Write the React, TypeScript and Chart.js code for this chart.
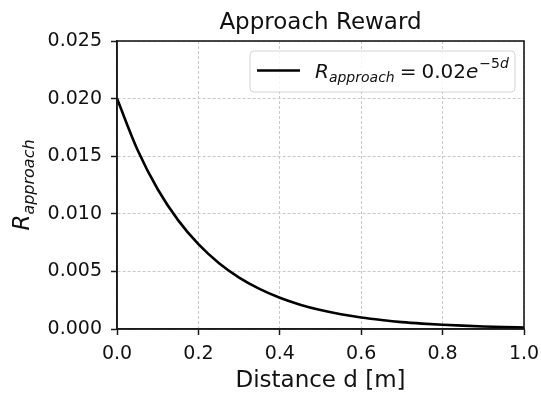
import { useEffect, useRef } from 'react';
import { Chart, registerables } from 'chart.js';

Chart.register(...registerables);

// Values
const distance = [0, 0.05, 0.1, 0.15, 0.2, 0.25, 0.3, 0.35, 0.4, 0.45, 0.5, 0.55, 0.6, 0.65, 0.7, 0.75, 0.8, 0.85, 0.9, 0.95, 1.0];
const reward = [0.02, 0.01558, 0.01213, 0.00945, 0.00736, 0.00573, 0.00446, 0.00348, 0.00271, 0.00211, 0.00164, 0.00128, 0.001, 0.00078, 0.0006, 0.00047, 0.00037, 0.00029, 0.00022, 0.00017, 0.00013];
const xTickValues = [0, 0.2, 0.4, 0.6, 0.8, 1.0];
const yTickValues = [0, 0.005, 0.01, 0.015, 0.02, 0.025];
const titleText = 'Approach Reward';
const xLabelText = 'Distance d [m]';

const FONT = '"DejaVu Sans", "Liberation Sans", sans-serif';

type Piece = { text: string; font: string; dy: number; gap?: number };

function piecesWidth(ctx: CanvasRenderingContext2D, pieces: Piece[]) {
  let w = 0;
  for (const p of pieces) {
    ctx.font = p.font;
    w += (p.gap || 0) + ctx.measureText(p.text).width;
  }
  return w;
}

function drawPieces(ctx: CanvasRenderingContext2D, pieces: Piece[], x: number, y: number) {
  let cx = x;
  ctx.textAlign = 'left';
  ctx.textBaseline = 'alphabetic';
  for (const p of pieces) {
    cx += p.gap || 0;
    ctx.font = p.font;
    ctx.fillText(p.text, cx, y + p.dy);
    cx += ctx.measureText(p.text).width;
  }
}

const decorPlugin = {
  id: 'decor',
  afterDatasetsDraw(chart: any) {
    const ctx: CanvasRenderingContext2D = chart.ctx;
    const a = chart.chartArea;
    ctx.save();
    // frame
    ctx.strokeStyle = '#1a1a1a';
    ctx.lineWidth = 1.6;
    ctx.strokeRect(a.left, a.top, a.right - a.left, a.bottom - a.top);

    const cx = (a.left + a.right) / 2;
    ctx.fillStyle = '#111';
    ctx.font = `23px ${FONT}`;
    ctx.textAlign = 'center';
    ctx.textBaseline = 'alphabetic';
    ctx.fillText(titleText, cx, a.top - 12);
    ctx.fillText(xLabelText, cx, a.bottom + 58);

    // y label
    const yPieces: Piece[] = [
      { text: 'R', font: `italic 23px ${FONT}`, dy: 0 },
      { text: 'approach', font: `italic 16px ${FONT}`, dy: 5 },
    ];
    ctx.save();
    ctx.translate(a.left - 88.5, (a.top + a.bottom) / 2);
    ctx.rotate(-Math.PI / 2);
    const yw = piecesWidth(ctx, yPieces);
    drawPieces(ctx, yPieces, -yw / 2, 0);
    ctx.restore();

    // legend
    const bw = 265, bh = 41;
    const bx = a.right - 9 - bw;
    const by = a.top + 10;
    const r = 4;
    ctx.beginPath();
    ctx.moveTo(bx + r, by);
    ctx.lineTo(bx + bw - r, by);
    ctx.arcTo(bx + bw, by, bx + bw, by + r, r);
    ctx.lineTo(bx + bw, by + bh - r);
    ctx.arcTo(bx + bw, by + bh, bx + bw - r, by + bh, r);
    ctx.lineTo(bx + r, by + bh);
    ctx.arcTo(bx, by + bh, bx, by + bh - r, r);
    ctx.lineTo(bx, by + r);
    ctx.arcTo(bx, by, bx + r, by, r);
    ctx.closePath();
    ctx.fillStyle = 'rgba(255,255,255,0.85)';
    ctx.fill();
    ctx.strokeStyle = '#d4d4d4';
    ctx.lineWidth = 1;
    ctx.stroke();

    ctx.beginPath();
    ctx.moveTo(bx + 7, by + 19.5);
    ctx.lineTo(bx + 50, by + 19.5);
    ctx.strokeStyle = '#000';
    ctx.lineWidth = 2.6;
    ctx.stroke();

    ctx.fillStyle = '#111';
    const lPieces: Piece[] = [
      { text: 'R', font: `italic 20px ${FONT}`, dy: 0 },
      { text: 'approach', font: `italic 14px ${FONT}`, dy: 4.4 },
      { text: '=', font: `20px ${FONT}`, dy: 0, gap: 5 },
      { text: '0.02', font: `20px ${FONT}`, dy: 0, gap: 5 },
      { text: 'e', font: `italic 20px ${FONT}`, dy: 0 },
      { text: '\u22125', font: `14px ${FONT}`, dy: -10, gap: 1 },
      { text: 'd', font: `italic 14px ${FONT}`, dy: -10 },
    ];
    drawPieces(ctx, lPieces, bx + 65, by + 26.6);
    ctx.restore();
  },
};

export default function App() {
  const ref = useRef<HTMLCanvasElement | null>(null);
  useEffect(() => {
    if (!ref.current) return;
    const points = distance.map((d, i) => ({ x: d, y: reward[i] }));
    const chart = new Chart(ref.current, {
      type: 'line',
      data: {
        datasets: [
          {
            data: points,
            borderColor: '#000',
            borderWidth: 2.6,
            pointRadius: 0,
            cubicInterpolationMode: 'monotone',
            fill: false,
            clip: 4,
          } as any,
        ],
      },
      options: {
        animation: false,
        responsive: false,
        devicePixelRatio: 1,
        layout: { padding: { top: 41, right: 17, left: 0, bottom: 0 } },
        plugins: { legend: { display: false }, title: { display: false }, tooltip: { enabled: false } },
        scales: {
          x: {
            type: 'linear',
            min: 0,
            max: 1,
            afterFit: (s: any) => { s.height = 65; s.paddingLeft = 0; s.paddingRight = 0; },
            afterBuildTicks: (s: any) => { s.ticks = xTickValues.map((v) => ({ value: v })); },
            ticks: {
              font: { family: FONT, size: 19 },
              color: '#111',
              padding: 8,
              maxRotation: 0,
              callback: (v: any) => Number(v).toFixed(1),
            },
            grid: { color: '#c8c8c8', lineWidth: 1, tickLength: 6, tickColor: '#1a1a1a', tickWidth: 1.5 },
            border: { display: true, color: '#1a1a1a', width: 1.6, dash: [3, 2] },
          },
          y: {
            type: 'linear',
            min: 0,
            max: 0.025,
            afterFit: (s: any) => { s.width = 117; s.paddingTop = 0; s.paddingBottom = 0; },
            afterBuildTicks: (s: any) => { s.ticks = yTickValues.map((v) => ({ value: v })); },
            ticks: {
              font: { family: FONT, size: 19 },
              color: '#111',
              padding: 9,
              callback: (v: any) => Number(v).toFixed(3),
            },
            grid: { color: '#c8c8c8', lineWidth: 1, tickLength: 6, tickColor: '#1a1a1a', tickWidth: 1.5 },
            border: { display: true, color: '#1a1a1a', width: 1.6, dash: [3, 2] },
          },
        },
      },
      plugins: [decorPlugin],
    });
    return () => chart.destroy();
  }, []);
  return (
    <div style={{ position: 'fixed', left: 0, top: 0, width: 541, height: 394, background: '#fff' }}>
      <canvas ref={ref} width={541} height={394} />
    </div>
  );
}
